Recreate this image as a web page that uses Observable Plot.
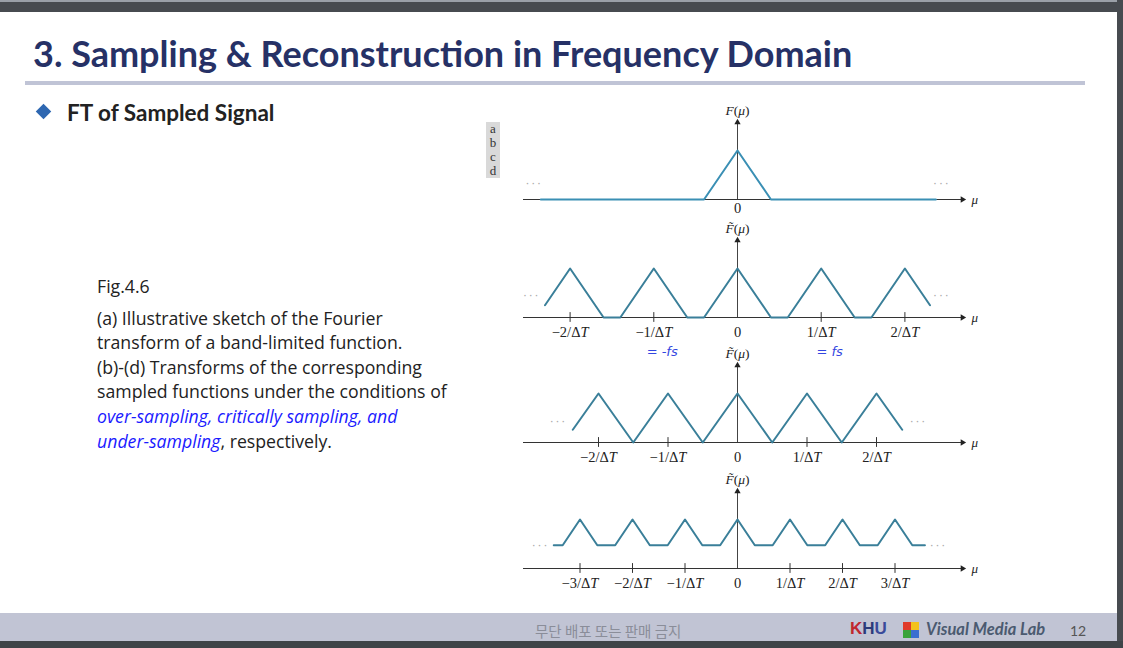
<!DOCTYPE html>
<html><head><meta charset="utf-8">
<script src="https://cdn.jsdelivr.net/npm/d3@7"></script>
<script src="https://cdn.jsdelivr.net/npm/@observablehq/plot@0.6"></script>
<style>
body{margin:0;width:1123px;height:648px;overflow:hidden;background:#fff;position:relative;font-family:Lato,"Open Sans",sans-serif;}
.abs{position:absolute;}
#topbar{left:0;top:0;width:1123px;height:12px;background:#474b50;border-top:2px solid #9aa0a8;box-sizing:border-box;}
#rightbar{left:1117px;top:0;width:6px;height:648px;background:#474b50;}
#title{left:33px;top:31px;font-weight:700;font-size:36px;line-height:44px;color:#263166;white-space:nowrap;}
#rule{left:25px;top:81px;width:1060px;height:4px;background:#c0c4d6;}
#bullet{left:38px;top:106px;width:11px;height:11px;background:#2e67b1;transform:rotate(45deg);}
#sub{left:67px;top:99px;font-weight:700;font-size:22.5px;color:#222;white-space:nowrap;}
#cap{left:97px;top:274px;font-family:"Open Sans",sans-serif;font-size:17.7px;line-height:24.6px;color:#222;white-space:nowrap;}
#cap .b{color:#1a1aff;font-style:italic;}
#abcd{left:486px;top:122px;width:14px;background:#d9d9d9;font-family:"Liberation Serif",serif;font-size:13px;line-height:14px;text-align:center;color:#333;}
#footer{left:0;top:613px;width:1117px;height:28px;background:#c1c4d4;}
#bottom{left:0;top:641px;width:1123px;height:7px;background:#3f4448;}
#kr{left:535px;top:620px;font-family:"Noto Sans CJK KR",sans-serif;font-size:14.5px;color:#8a8d99;}
#khu{left:850px;top:619px;font-weight:700;font-size:17px;font-family:"Liberation Sans",sans-serif;}
#icon{left:903px;top:622px;width:16px;height:16px;}
#vml{left:926px;top:619px;font-weight:700;font-style:italic;font-size:16.5px;color:#4b5a70;white-space:nowrap;}
#pg{left:1070px;top:622px;font-size:14px;color:#555;}
</style></head>
<body>
<div id="topbar" class="abs"></div>
<div id="rightbar" class="abs"></div>
<div id="title" class="abs">3. Sampling &amp; Reconstruction in Frequency Domain</div>
<div id="rule" class="abs"></div>
<div id="bullet" class="abs"></div>
<div id="sub" class="abs">FT of Sampled Signal</div>
<div id="cap" class="abs">Fig.4.6<div style="height:7px"></div>(a) Illustrative sketch of the Fourier<br>transform of a band-limited function.<br>(b)-(d) Transforms of the corresponding<br>sampled functions under the conditions of<br><span class="b">over-sampling, critically sampling, and<br>under-sampling</span>, respectively.</div>
<div id="abcd" class="abs">a<br>b<br>c<br>d</div>
<div id="footer" class="abs"></div>
<div id="bottom" class="abs"></div>
<div id="kr" class="abs">무단 배포 또는 판매 금지</div>
<div id="khu" class="abs"><span style="color:#c0272d">K</span><span style="color:#2b3a7a">H</span><span style="color:#3a4a9a">U</span></div>
<svg id="icon" class="abs" viewBox="0 0 16 16"><rect x="0" y="0" width="8" height="8" fill="#e03a2a"/><rect x="8" y="0" width="8" height="8" fill="#f3c21b"/><rect x="0" y="8" width="8" height="8" fill="#3aa33a"/><rect x="8" y="8" width="8" height="8" fill="#3a6fd0"/></svg>
<div id="vml" class="abs">Visual Media Lab</div>
<div id="pg" class="abs">12</div>
<script>
// Panel (a): band-limited F(mu); x in units of 1/ΔT (same scale as panel b)
const aMu = [-2.35, -0.4, 0, 0.4, 2.37];
const aF  = [0, 0, 1, 0, 0];
const aTicks = [0];
const aTickLabels = ["0"];
const aDots = [-2.44, 2.43], aDotsY = 0.33;

// Panel (b): over-sampling
const bMu = [-2.3,-2,-1.6,-1.4,-1,-0.6,-0.4,0,0.4,0.6,1,1.4,1.6,2,2.3];
const bF  = [0.25,1,0,0,1,0,0,1,0,0,1,0,0,1,0.25];
const bTicks = [-2,-1,0,1,2];
const bTickLabels = ["−2/ΔT","−1/ΔT","0","1/ΔT","2/ΔT"];
const bDots = [-2.47, 2.43], bDotsY = 0.44;
const bNotes = [{x:-0.9, t:"= -fs"}, {x:1.1, t:"= fs"}];

// Panel (c): critical sampling
const cMu = [-2.37,-2,-1.5,-1,-0.5,0,0.5,1,1.5,2,2.37];
const cF  = [0.26,1,0,1,0,1,0,1,0,1,0.26];
const cTicks = [-2,-1,0,1,2];
const cTickLabels = ["−2/ΔT","−1/ΔT","0","1/ΔT","2/ΔT"];
const cDots = [-2.59, 2.59], cDotsY = 0.43;

// Panel (d): under-sampling
const dMu = [-3.5,-3.33,-3,-2.67,-2.33,-2,-1.67,-1.33,-1,-0.67,-0.33,0,0.33,0.67,1,1.33,1.67,2,2.33,2.67,3,3.33,3.57];
const dF  = [.475,.475,1,.475,.475,1,.475,.475,1,.475,.475,1,.475,.475,1,.475,.475,1,.475,.475,1,.475,.475];
const dTicks = [-3,-2,-1,0,1,2,3];
const dTickLabels = ["−3/ΔT","−2/ΔT","−1/ΔT","0","1/ΔT","2/ΔT","3/ΔT"];
const dDots = [-3.77, 3.81], dDotsY = 0.475;

const serif = "Liberation Serif, DejaVu Serif, serif";

function panel({mu, F, color, ticks, labels, pxPerUnit, ylabel, dots, dotsY, notes, showTicks, top, tickDy = 15}) {
  const data = mu.map((m, i) => ({mu: m, F: F[i]}));
  const xd = [-214 / pxPerUnit, 225 / pxPerUnit];
  const yTop = 1.57;
  const tickData = ticks.map((t, i) => ({t, label: labels[i]}));
  const marks = [
    Plot.ruleY([{y: 0, x1: xd[0], x2: xd[1]}], {y: "y", x1: "x1", x2: "x2", stroke: "#333", strokeWidth: 1}),
    Plot.dot([{x: xd[1], y: 0}], {x: "x", y: "y", symbol: "triangle2", r: 3, fill: "#222", stroke: "none", rotate: 90}),
    Plot.ruleX([{x: 0, y1: 0, y2: yTop}], {x: "x", y1: "y1", y2: "y2", stroke: "#444", strokeWidth: 1}),
    Plot.dot([{x: 0, y: yTop}], {x: "x", y: "y", symbol: "triangle2", r: 3, fill: "#222", stroke: "none"}),
    Plot.text([{x: 0, y: yTop, s: ylabel}], {x: "x", y: "y", text: "s", dy: -12, fontFamily: serif, fontSize: 13.5, fill: "#222"}),
    Plot.text([{x: xd[1], y: 0, s: "μ"}], {x: "x", y: "y", text: "s", dx: 9, textAnchor: "start", fontFamily: serif, fontSize: 13, fill: "#222"}),
    Plot.line(data, {x: "mu", y: "F", stroke: color, strokeWidth: 2}),
    Plot.text(tickData, {x: "t", y: () => 0, text: "label", dy: tickDy, fontFamily: serif, fontSize: 14.5, fill: "#222"}),
    Plot.text(dots.map(x => ({x, y: dotsY})), {x: "x", y: "y", text: () => "· · ·", fontSize: 11, fill: "#aaa"})
  ];
  if (showTicks) marks.push(Plot.ruleX(tickData.filter(d => d.t !== 0), {x: "t", y1: () => -0.1, y2: () => 0.1, stroke: "#333", strokeWidth: 1}));
  if (notes) marks.push(Plot.text(notes, {x: "x", y: () => 0, text: "t", dy: 34, fontFamily: "DejaVu Sans, sans-serif", fontStyle: "italic", fontSize: 13, fill: "#3346e0"}));
  const svg = Plot.plot({
    width: 480, height: 125, marginLeft: 23, marginRight: 18, marginTop: 23, marginBottom: 25,
    x: {domain: xd, axis: null},
    y: {domain: [0, yTop], axis: null},
    style: {background: "transparent", overflow: "visible"},
    marks
  });
  svg.querySelectorAll("text").forEach(t => {
    const s = t.textContent;
    if (s.includes("ΔT")) t.innerHTML = s.replace("ΔT", 'Δ<tspan font-style="italic">T</tspan>');
    else if (s.includes("(μ)")) t.innerHTML = s.replace(/^(.+)\(μ\)$/, '<tspan font-style="italic">$1</tspan>(<tspan font-style="italic">μ</tspan>)');
    else if (s === "μ") t.setAttribute("font-style", "italic");
  });
  svg.style.position = "absolute";
  svg.style.top = top + "px";
  svg.style.left = "500px";
  document.body.appendChild(svg);
}

panel({mu: aMu, F: aF, color: "#3a8fb4", ticks: aTicks, labels: aTickLabels, pxPerUnit: 83.7, ylabel: "F(μ)", dots: aDots, dotsY: aDotsY, showTicks: false, top: 99, tickDy: 9});
panel({mu: bMu, F: bF, color: "#3a7f99", ticks: bTicks, labels: bTickLabels, pxPerUnit: 83.7, ylabel: "F\u0303(μ)", dots: bDots, dotsY: bDotsY, notes: bNotes, showTicks: true, top: 216.7});
panel({mu: cMu, F: cF, color: "#3a7f99", ticks: cTicks, labels: cTickLabels, pxPerUnit: 69.5, ylabel: "F\u0303(μ)", dots: cDots, dotsY: cDotsY, showTicks: true, top: 341.7});
panel({mu: dMu, F: dF, color: "#3a7f99", ticks: dTicks, labels: dTickLabels, pxPerUnit: 52.5, ylabel: "F\u0303(μ)", dots: dDots, dotsY: dDotsY, showTicks: true, top: 468.3});
</script>
</body></html>
